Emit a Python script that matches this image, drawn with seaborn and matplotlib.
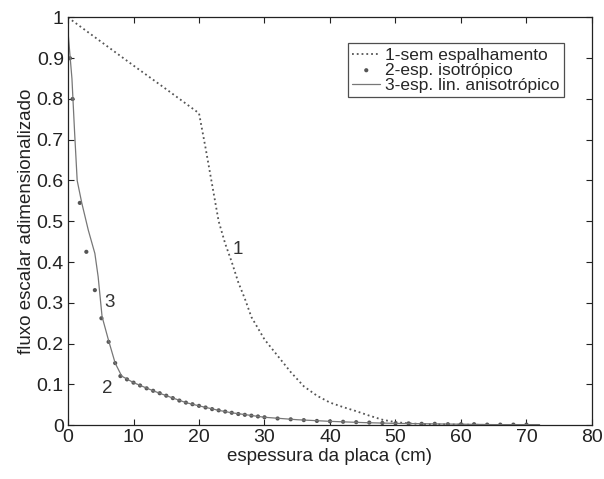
import matplotlib
matplotlib.use("Agg")
import matplotlib.pyplot as plt
import seaborn as sns

# curva 1 - sem espalhamento
x_sem = [0, 5, 10, 15, 20, 21, 22, 23, 24, 25, 26, 27, 28, 30, 32, 34, 36, 38, 40,
         42, 44, 46, 48, 50, 52, 55, 60, 65, 70]
y_sem = [1.0, 0.941, 0.882, 0.824, 0.765, 0.68, 0.59, 0.50, 0.445, 0.40, 0.35, 0.31, 0.265,
         0.21, 0.17, 0.13, 0.095, 0.072, 0.055, 0.044, 0.034, 0.023, 0.013, 0.007, 0.004,
         0.002, 0.001, 0.0, 0.0]

# curva 2 - espalhamento isotropico (pontos)
x_iso = [0.3, 0.7, 1.8, 2.8, 4.1, 5.1, 6.2, 7.2, 8, 9, 10, 11, 12, 13, 14, 15, 16, 17, 18,
         19, 20, 21, 22, 23, 24, 25, 26, 27, 28, 29, 30, 32, 34, 36, 38, 40, 42, 44, 46,
         48, 50, 52, 54, 56, 58, 60, 62, 64, 66, 68, 70]
y_iso = [0.90, 0.80, 0.545, 0.425, 0.331, 0.262, 0.204, 0.152, 0.12, 0.112, 0.104, 0.097,
         0.090, 0.084, 0.078, 0.072, 0.066, 0.060, 0.055, 0.051, 0.047, 0.043, 0.039, 0.036,
         0.033, 0.030, 0.027, 0.025, 0.023, 0.021, 0.019, 0.016, 0.014, 0.012, 0.010, 0.009,
         0.008, 0.007, 0.006, 0.005, 0.004, 0.004, 0.003, 0.003, 0.002, 0.002, 0.002, 0.001,
         0.001, 0.001, 0.001]

# curva 3 - espalhamento linearmente anisotropico
x_ani = [0, 0.6, 1.0, 1.4, 2.1, 3.1, 4.1, 4.6, 5.2, 6.2, 7.2, 8.2, 10, 13, 15, 18, 20, 23,
         25, 30, 35, 40, 45, 50, 55, 60, 65, 72]
y_ani = [0.965, 0.85, 0.72, 0.60, 0.545, 0.478, 0.421, 0.364, 0.266, 0.207, 0.152, 0.12,
         0.104, 0.084, 0.072, 0.055, 0.047, 0.036, 0.030, 0.019, 0.013, 0.009, 0.006,
         0.004, 0.003, 0.002, 0.001, 0.001]

xticks = [0, 10, 20, 30, 40, 50, 60, 70, 80]
yticks = [0, 0.1, 0.2, 0.3, 0.4, 0.5, 0.6, 0.7, 0.8, 0.9, 1]
ytick_labels = ["0", "0.1", "0.2", "0.3", "0.4", "0.5", "0.6", "0.7", "0.8", "0.9", "1"]

sns.set_style("ticks")
plt.rcParams["font.family"] = ["Liberation Sans", "DejaVu Sans"]

fig = plt.figure(figsize=(6.04, 4.79), dpi=100)
ax = fig.add_axes([0.1126, 0.1127, 0.8675, 0.8508])

cor = "#555555"
sns.lineplot(x=x_sem, y=y_sem, ax=ax, color=cor, linestyle=":", linewidth=1.3,
             label="1-sem espalhamento", sort=False)
sns.scatterplot(x=x_iso, y=y_iso, ax=ax, color=cor, s=9, edgecolor="none", marker="o",
                label="2-esp. isotrópico")
sns.lineplot(x=x_ani, y=y_ani, ax=ax, color="#777777", linewidth=0.9,
             label="3-esp. lin. anisotrópico", sort=False)

ax.text(26, 0.43, "1", fontsize=13.5, color="#333333", ha="center", va="center")
ax.text(6.3, 0.30, "3", fontsize=13.5, color="#333333", ha="center", va="center")
ax.text(6.0, 0.09, "2", fontsize=13.5, color="#333333", ha="center", va="center")

ax.set_xlim(0, 80)
ax.set_ylim(0, 1)
ax.set_xticks(xticks)
ax.set_yticks(yticks)
ax.set_yticklabels(ytick_labels)
ax.tick_params(direction="in", top=True, right=True, labelsize=14, length=4,
               colors="#222222", width=0.8, pad=3)
for s in ax.spines.values():
    s.set_visible(True)
    s.set_color("#222222")
    s.set_linewidth(0.9)

ax.set_xlabel("espessura da placa (cm)", fontsize=13.5, color="#222222", labelpad=1)
ax.set_ylabel("fluxo escalar adimensionalizado", fontsize=13.5, color="#222222", labelpad=1)

leg = ax.legend(loc="upper right", bbox_to_anchor=(0.947, 0.937), fontsize=12.5,
                frameon=True, fancybox=False, handlelength=1.6, handletextpad=0.3,
                labelspacing=0.0, borderpad=0.25, borderaxespad=0, markerscale=1.0)
leg.get_frame().set_edgecolor("#222222")
leg.get_frame().set_linewidth(0.9)

fig.savefig("out.png", dpi=100)
